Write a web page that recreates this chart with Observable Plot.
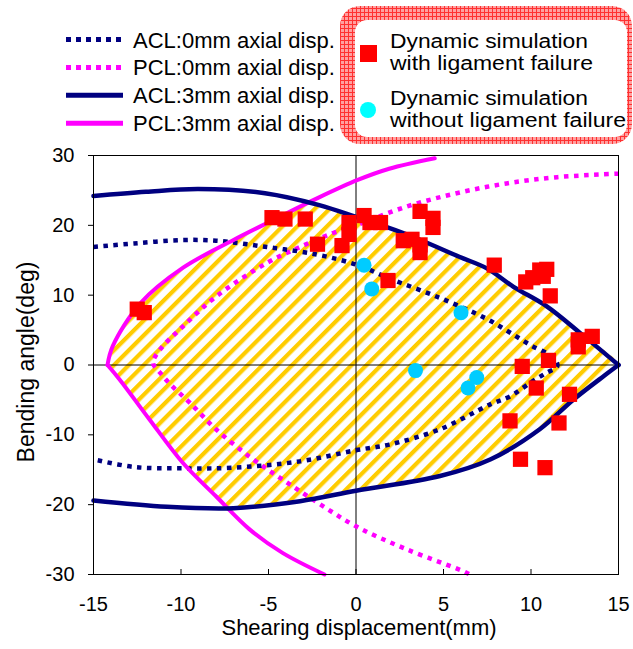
<!DOCTYPE html>
<html><head><meta charset="utf-8">
<script src="https://cdn.jsdelivr.net/npm/d3@7"></script>
<script src="https://cdn.jsdelivr.net/npm/@observablehq/plot@0.6"></script>
<style>
body{margin:0;background:#fff;}
#wrap{position:relative;width:633px;height:649px;font-family:"Liberation Sans",Arial,sans-serif;}
</style></head><body><div id="wrap"></div>
<script>
// ---- data ----
// ACL, 0 mm axial displacement (dotted navy)
const acl0X = [-15, -12.7, -9.9, -8.0, -5.1, -2.2, 0.1, 1.9, 4.8, 7.4, 8.7, 10.0, 11.3, 11.5, 10.9, 10.1, 8.8, 7.7, 4.8, 1.9, 0, -3.2, -7.0, -9.9, -12.7, -15];
const acl0Y = [16.9, 17.4, 17.9, 17.8, 16.9, 15.8, 14.3, 12.4, 9.6, 6.7, 4.8, 2.8, 1.0, -0.2, -1.1, -2.3, -4.5, -5.6, -9.2, -11.4, -12.2, -13.8, -14.7, -14.8, -14.6, -13.5];

// PCL, 0 mm axial displacement (dotted magenta)
const pcl0X = [15, 11.5, 8.6, 5.75, 2.9, 0, -1.3, -3.2, -5.1, -8.0, -9.9, -11.2, -11.6, -11.2, -10.6, -9.5, -8.0, -6.1, -4.2, -2.2, 0, 2.9, 6.1, 6.5];
const pcl0Y = [27.4, 26.9, 26.0, 24.6, 22.7, 20.0, 18.9, 16.9, 14.6, 9.8, 5.5, 2.2, 0.3, -1.1, -2.8, -5.4, -9.2, -13.1, -16.4, -19.7, -23.1, -26.4, -29.5, -30];

// ACL, 3 mm axial displacement (solid navy): upper and lower branches
const acl3UpX = [-15, -12, -9, -5.2, -2.1, 0, 2.7, 5.9, 7.5, 9.0, 10.9, 12.8, 15];
const acl3UpY = [24.2, 24.8, 25.2, 24.6, 22.9, 21.2, 18.9, 15.5, 13.8, 11.2, 8.4, 4.6, 0];
const acl3LoX = [15, 14.2, 12.4, 10.5, 7.7, 4.8, 0, -3.2, -7.0, -10.8, -15];
const acl3LoY = [0, -1.5, -5.0, -9.2, -13.5, -15.9, -18.0, -19.5, -20.5, -20.3, -19.4];

// PCL, 3 mm axial displacement (solid magenta): upper and lower branches
const pcl3UpX = [4.5, 1.9, 0.1, -2.2, -4.7, -7.0, -9.9, -12.3, -13.9, -14.2];
const pcl3UpY = [29.6, 28.1, 26.5, 23.9, 20.8, 17.9, 13.9, 8.9, 2.7, 0];
const pcl3LoX = [-14.2, -13.5, -11.8, -9.9, -8.0, -6.1, -4.2, -1.8];
const pcl3LoY = [0, -2.1, -7.8, -14.0, -18.8, -23.5, -26.9, -30];

// boundary of the hatched region
const hatchX = [-14.2, -13.9, -12.3, -9.9, -7.0, -4.7, -2.7, -2.1, 0, 2.7, 5.9, 7.5, 9.0, 10.9, 12.8, 15, 14.2, 12.4, 10.5, 7.7, 4.8, 0, -3.2, -7.0, -7.3, -8.0, -9.9, -11.8, -13.5];
const hatchY = [0, 2.7, 8.9, 13.9, 17.9, 20.8, 23.4, 22.9, 21.2, 18.9, 15.5, 13.8, 11.2, 8.4, 4.6, 0, -1.5, -5.0, -9.2, -13.5, -15.9, -18.0, -19.5, -20.5, -20.6, -18.8, -14.0, -7.8, -2.1];

// dynamic simulation points
const failX = [-12.5, -12.1, -4.8, -4.06, -2.9, -2.2, -0.8, -0.4, -0.4, 0.46, 0.8, 1.4, 3.66, 4.4, 4.4, 2.7, 3.2, 3.66, 3.66, 1.83, 7.9, 9.7, 10.1, 10.5, 10.9, 10.7, 11.1, 12.7, 12.7, 13.5, 11.0, 9.5, 10.3, 12.2, 8.8, 11.6, 9.4, 10.8];
const failY = [8.0, 7.5, 21.1, 20.9, 20.9, 17.3, 17.1, 20.4, 18.7, 21.4, 20.4, 20.4, 22.0, 21.0, 19.7, 17.8, 18.0, 17.2, 16.1, 12.1, 14.3, 11.9, 12.5, 13.6, 13.7, 12.7, 9.9, 3.6, 2.6, 4.1, 0.66, -0.2, -3.3, -4.2, -8.0, -8.3, -13.5, -14.7];
const okX = [0.46, 0.9, 6.0, 3.4, 6.9, 6.4];
const okY = [14.3, 10.9, 7.5, -0.8, -1.8, -3.3];

const xTicks = [-15, -10, -5, 0, 5, 10, 15];
const yTicks = [-30, -20, -10, 0, 10, 20, 30];
const xTitle = "Shearing displacement(mm)";
const yTitle = "Bending angle(deg)";
const lineLabels = ["ACL:0mm axial disp.", "PCL:0mm axial disp.", "ACL:3mm axial disp.", "PCL:3mm axial disp."];
const pointLabels = [["Dynamic simulation", "with ligament failure"], ["Dynamic simulation", "without ligament failure"]];

// ---- styles ----
const NAVY = "#000080", MAG = "#FF00FF", RED = "#FF0000", CYAN = "#00CCFF", CYAN_LEG = "#00FFFF", GOLD = "#FFCC00";
const FONT = "'Liberation Sans', Arial, sans-serif";
const DOT = "4.5,5.5";
const CURVE = "catmull-rom";

const pts = (xs, ys) => xs.map((x, i) => ({x, y: ys[i]}));
const solid = (xs, ys, color, w) => Plot.line(pts(xs, ys), {x: "x", y: "y", stroke: color, strokeWidth: w, curve: CURVE});
const dotted = (xs, ys, color) => Plot.line(pts(xs, ys), {x: "x", y: "y", stroke: color, strokeWidth: 4.5, strokeDasharray: DOT, strokeLinecap: "butt", curve: CURVE});

const plot = Plot.plot({
  width: 633, height: 649,
  marginLeft: 93, marginRight: 15, marginTop: 155, marginBottom: 75,
  x: {domain: [-15, 15], label: null},
  y: {domain: [-30, 30], label: null},
  style: {fontFamily: FONT, fontSize: "20px", color: "#000", background: "transparent", overflow: "visible"},
  marks: [
    Plot.line(pts(hatchX, hatchY), {x: "x", y: "y", fill: "url(#hatch)", stroke: "none", curve: CURVE}),
    Plot.ruleX([0], {stroke: "#000", strokeWidth: 1}),
    Plot.ruleY([0], {stroke: "#000", strokeWidth: 1}),
    dotted(pcl0X, pcl0Y, MAG),
    dotted(acl0X, acl0Y, NAVY),
    solid(pcl3UpX, pcl3UpY, MAG, 4),
    solid(pcl3LoX, pcl3LoY, MAG, 4),
    solid(acl3UpX, acl3UpY, NAVY, 4.5),
    solid(acl3LoX, acl3LoY, NAVY, 4.5),
    Plot.dot(pts(failX, failY), {x: "x", y: "y", symbol: "square", r: 8.6, fill: RED, stroke: "none"}),
    Plot.dot(pts(okX, okY), {x: "x", y: "y", r: 7.5, fill: CYAN, stroke: "none"}),
    Plot.frame({stroke: "#000", strokeWidth: 1}),
    Plot.axisX({ticks: xTicks, tickSize: 5, dy: -5, tickFormat: () => "", label: null}),
    Plot.axisX({ticks: xTicks, tickSize: 0, tickPadding: 22, tickFormat: d => String(d), label: null, fontSize: 20}),
    Plot.axisY({ticks: yTicks, tickSize: 5, tickPadding: 14, tickFormat: d => String(d), label: null, fontSize: 20}),
    Plot.text([xTitle], {frameAnchor: "bottom", textAnchor: "middle", dy: 60, dx: 3, fontSize: 22, text: d => d}),
    Plot.text([yTitle], {frameAnchor: "left", textAnchor: "middle", rotate: -90, dx: -67, dy: -3, fontSize: 23, text: d => d})
  ]
});

// hatch pattern
const defs = d3.select(plot).insert("defs", ":first-child");
const pat = defs.append("pattern").attr("id", "hatch").attr("patternUnits", "userSpaceOnUse")
  .attr("width", 10.5).attr("height", 10.5).attr("patternTransform", "rotate(45)");
pat.append("rect").attr("x", 0).attr("y", 0).attr("width", 4.2).attr("height", 10.5).attr("fill", GOLD);

const wrap = document.getElementById("wrap");
plot.style.position = "absolute"; plot.style.left = "0"; plot.style.top = "0";
wrap.appendChild(plot);

// ---- legend overlay ----
const leg = d3.create("svg").attr("width", 633).attr("height", 160)
  .style("position", "absolute").style("left", "0").style("top", "0")
  .style("font-family", FONT);
const ldefs = leg.append("defs");
const grid = ldefs.append("pattern").attr("id", "redgrid").attr("patternUnits", "userSpaceOnUse").attr("width", 4).attr("height", 4);
grid.append("rect").attr("width", 4).attr("height", 4).attr("fill", "#FFA0A0");
grid.append("path").attr("d", "M0,0.5H4M0.5,0V4").attr("stroke", "#FF3030").attr("stroke-width", 1);

const lineStyles = [
  {stroke: NAVY, dash: "5,5"}, {stroke: MAG, dash: "5,5"},
  {stroke: NAVY, dash: null}, {stroke: MAG, dash: null}
];
lineLabels.forEach((lab, i) => {
  const y = 39.5 + i * 27.9;
  leg.append("line").attr("x1", 66).attr("x2", 123).attr("y1", y).attr("y2", y)
    .attr("stroke", lineStyles[i].stroke).attr("stroke-width", 5)
    .attr("stroke-dasharray", lineStyles[i].dash);
  leg.append("text").attr("x", 133).attr("y", y + 8).attr("font-size", 22).attr("fill", "#000").text(lab);
});

leg.append("rect").attr("x", 340).attr("y", 6).attr("width", 292).attr("height", 138).attr("rx", 20).attr("fill", "url(#redgrid)");
leg.append("rect").attr("x", 355).attr("y", 20).attr("width", 272).attr("height", 117).attr("rx", 12).attr("fill", "#fff");
leg.append("rect").attr("x", 360).attr("y", 45).attr("width", 17).attr("height", 17).attr("fill", RED);
leg.append("circle").attr("cx", 368).attr("cy", 110).attr("r", 8).attr("fill", CYAN_LEG);
const baseY = [[47.5, 70], [104.5, 127]];
const textW = [[198, 203], [198, 236]];
pointLabels.forEach((lines, i) => {
  lines.forEach((t, j) => {
    leg.append("text").attr("x", 390).attr("y", baseY[i][j]).attr("font-size", 19.5)
      .attr("textLength", textW[i][j]).attr("lengthAdjust", "spacingAndGlyphs")
      .attr("fill", "#000").text(t);
  });
});
wrap.appendChild(leg.node());
</script></body></html>
